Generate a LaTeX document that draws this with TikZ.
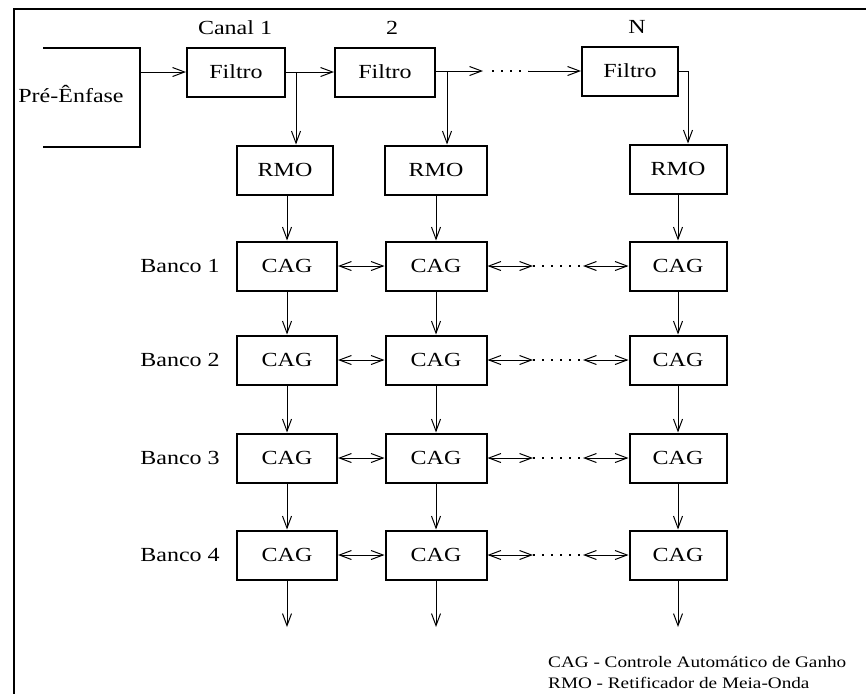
\documentclass[tikz,border=0pt]{standalone}
\usepackage{fontspec}
\setmainfont{Liberation Serif}[FakeStretch=1.2]
\usetikzlibrary{arrows.meta}
\begin{document}
\begin{tikzpicture}[x=1pt,y=-1pt,
  box/.style={draw, line width=2pt, minimum height=49pt, inner sep=0pt, font=\fontsize{20}{24}\selectfont},
  lbl/.style={font=\fontsize{20}{24}\selectfont, inner sep=0pt},
  tip/.tip={Straight Barb[length=12pt,width=9pt,line width=1pt]},
  arr/.style={line width=1pt, -tip},
  barr/.style={line width=1pt, tip-tip},
  dots/.style={line width=1.3pt, dash pattern=on 2pt off 7pt},
  ln/.style={line width=1pt}]
\useasboundingbox (0,0) rectangle (866,694);
% frame
\draw[line width=1.5pt] (866,9) -- (14,9) -- (14,694);
% pre-enfase
\coordinate (pa) at (43,48);
\coordinate (pb) at (140,48);
\coordinate (pc) at (140,147);
\coordinate (pd) at (43,147);
\draw[line width=2pt] (pa) -- (pb) -- (pc) -- (pd);
\node[lbl] (pre) at (71,94) {Pré-Ênfase};
\coordinate (pout) at (140,72);
% headers
\node[lbl] (h1) at (235,28) {Canal 1};
\node[lbl] (h2) at (392,28) {2};
\node[lbl] (hn) at (637,27) {N};
% filters
\node[box, minimum width=98pt] (F1) at (236,72) {Filtro};
\node[box, minimum width=100pt] (F2) at (385,72) {Filtro};
\node[box, minimum width=96pt] (FN) at (630,71) {Filtro};
% RMO
\node[box, minimum width=96pt] (R1) at (285,170) {RMO};
\node[box, minimum width=102pt] (R2) at (436,170) {RMO};
\node[box, minimum width=97pt] (RN) at (678,169) {RMO};
% CAG grid
\foreach \r/\y in {1/266,2/360,3/458,4/555}{
  \node[box, minimum width=100pt] (C\r a) at (287,\y) {CAG};
  \node[box, minimum width=101pt] (C\r b) at (436,\y) {CAG};
  \node[box, minimum width=97pt] (C\r c) at (678,\y) {CAG};
  \node[lbl] (B\r) at (180,\y) {Banco \r};
}
% top chain
\draw[arr] (pout) -- (pout -| F1.west);
\draw[arr] (F1.east) -- (F2.west);
\coordinate (b1) at (296,72);
\draw[arr] (b1) -- (b1 |- R1.north);
\coordinate (b2) at (447,71);
\draw[ln] (F2.east |- b2) -- (b2);
\draw[arr] (b2) -- (b2 |- R2.north);
\coordinate (d1) at (483,71);
\coordinate (d2) at (492,71);
\coordinate (d3) at (528,71);
\draw[arr] (b2) -- (d1);
\draw[dots] (d2) -- (d3);
\draw[arr] (d3) -- (FN.west);
\coordinate (bn) at (688,71);
\draw[ln] (FN.east) -- (bn);
\draw[arr] (bn) -- (bn |- RN.north);
% RMO to bank 1
\draw[arr] (R1.south -| C1a.north) -- (C1a.north);
\draw[arr] (R2.south) -- (C1b.north);
\draw[arr] (RN.south) -- (C1c.north);
% vertical bank arrows
\foreach \r/\s in {1/2,2/3,3/4}{
  \draw[arr] (C\r a.south) -- (C\s a.north);
  \draw[arr] (C\r b.south) -- (C\s b.north);
  \draw[arr] (C\r c.south) -- (C\s c.north);
}
% output arrows
\coordinate (oa) at (287,627);
\coordinate (ob) at (436,627);
\coordinate (oc) at (678,627);
\draw[arr] (C4a.south) -- (oa);
\draw[arr] (C4b.south) -- (ob);
\draw[arr] (C4c.south) -- (oc);
% horizontal bank arrows
\foreach \r/\y in {1/266,2/360,3/458,4/555}{
  \coordinate (e\r a) at (533,\y);
  \coordinate (e\r b) at (583,\y);
  \draw[barr] (C\r a.east) -- (C\r b.west);
  \draw[barr] (C\r b.east) -- (e\r a);
  \draw[dots] (e\r a) -- (e\r b);
  \draw[barr] (e\r b) -- (C\r c.west);
}
% legend
\node[lbl, anchor=west, font=\fontsize{16}{19}\selectfont] (l1) at (548,662) {CAG - Controle Automático de Ganho};
\node[lbl, anchor=west, font=\fontsize{16}{19}\selectfont] (l2) at (548,683) {RMO - Retificador de Meia-Onda};
\end{tikzpicture}
\end{document}
